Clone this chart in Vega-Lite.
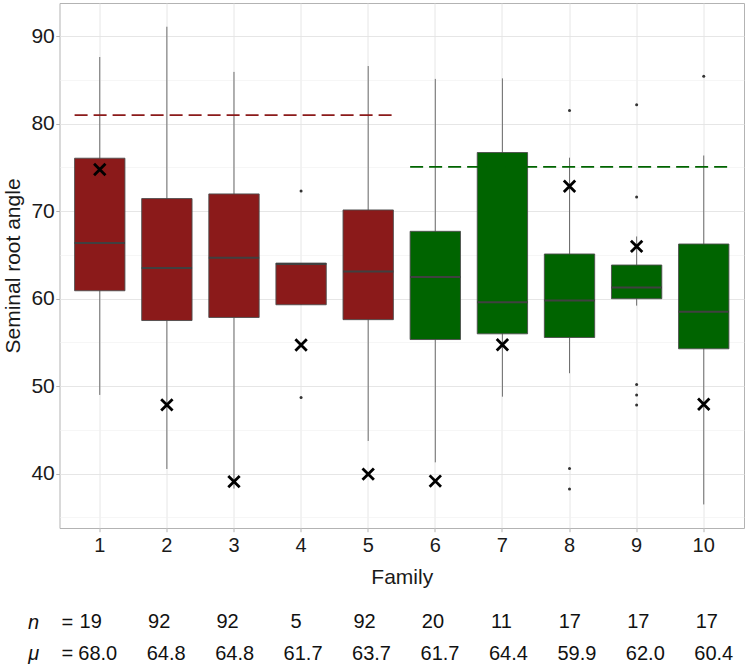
{
  "$schema": "https://vega.github.io/schema/vega-lite/v6.json",
  "padding": {"left": 1.5, "top": 2, "right": 2, "bottom": 0},
  "spacing": 24,
  "config": {
    "font": "Liberation Sans",
    "view": {"stroke": "#b3b3b3", "strokeWidth": 1},
    "axis": {
      "domain": false,
      "tickColor": "#b3b3b3",
      "tickSize": 3.7,
      "gridColor": "#e3e3e3",
      "gridWidth": 0.9,
      "labelColor": "#1a1a1a",
      "titleColor": "#1a1a1a",
      "titleFontWeight": "normal",
      "labelFontSize": 20,
      "titleFontSize": 21
    }
  },
  "datasets": {
    "boxes": [
      {"family": 1, "group": "A", "lower": 49.0, "q1": 60.9, "median": 66.35, "q3": 76.04, "upper": 87.6, "marker": 74.75},
      {"family": 2, "group": "A", "lower": 40.54, "q1": 57.5, "median": 63.5, "q3": 71.43, "upper": 91.06, "marker": 47.86},
      {"family": 3, "group": "A", "lower": 38.3, "q1": 57.85, "median": 64.68, "q3": 71.96, "upper": 85.9, "marker": 39.1},
      {"family": 4, "group": "A", "lower": 59.3, "q1": 59.3, "median": 63.95, "q3": 64.06, "upper": 64.06, "marker": 54.7},
      {"family": 5, "group": "A", "lower": 43.74, "q1": 57.6, "median": 63.1, "q3": 70.13, "upper": 86.57, "marker": 39.95},
      {"family": 6, "group": "B", "lower": 41.3, "q1": 55.33, "median": 62.46, "q3": 67.69, "upper": 85.1, "marker": 39.16},
      {"family": 7, "group": "B", "lower": 48.8, "q1": 55.98, "median": 59.6, "q3": 76.69, "upper": 85.16, "marker": 54.73},
      {"family": 8, "group": "B", "lower": 51.48, "q1": 55.56, "median": 59.8, "q3": 65.1, "upper": 76.1, "marker": 72.84},
      {"family": 9, "group": "B", "lower": 59.2, "q1": 59.99, "median": 61.28, "q3": 63.84, "upper": 67.1, "marker": 65.97},
      {"family": 10, "group": "B", "lower": 36.49, "q1": 54.27, "median": 58.5, "q3": 66.24, "upper": 76.35, "marker": 47.93}
    ],
    "outliers": [
      {"family": 4, "value": 72.3},
      {"family": 4, "value": 48.7},
      {"family": 8, "value": 81.5},
      {"family": 8, "value": 40.6},
      {"family": 8, "value": 38.25},
      {"family": 9, "value": 82.14},
      {"family": 9, "value": 71.6},
      {"family": 9, "value": 50.18},
      {"family": 9, "value": 49.0},
      {"family": 9, "value": 47.86},
      {"family": 10, "value": 85.39}
    ],
    "refs": [
      {"group": "A", "from": 1, "to": 5, "value": 80.96},
      {"group": "B", "from": 6, "to": 10, "value": 75.05}
    ],
    "table": [
      {"family": 1, "row": "n", "text": "19"},
      {"family": 2, "row": "n", "text": "92"},
      {"family": 3, "row": "n", "text": "92"},
      {"family": 4, "row": "n", "text": "5"},
      {"family": 5, "row": "n", "text": "92"},
      {"family": 6, "row": "n", "text": "20"},
      {"family": 7, "row": "n", "text": "11"},
      {"family": 8, "row": "n", "text": "17"},
      {"family": 9, "row": "n", "text": "17"},
      {"family": 10, "row": "n", "text": "17"},
      {"family": 1, "row": "μ", "text": "68.0"},
      {"family": 2, "row": "μ", "text": "64.8"},
      {"family": 3, "row": "μ", "text": "64.8"},
      {"family": 4, "row": "μ", "text": "61.7"},
      {"family": 5, "row": "μ", "text": "63.7"},
      {"family": 6, "row": "μ", "text": "61.7"},
      {"family": 7, "row": "μ", "text": "64.4"},
      {"family": 8, "row": "μ", "text": "59.9"},
      {"family": 9, "row": "μ", "text": "62.0"},
      {"family": 10, "row": "μ", "text": "60.4"}
    ]
  },
  "vconcat": [
    {
      "width": 684.5,
      "height": 525,
      "resolve": {"axis": {"y": "independent"}},
      "layer": [
        {
          "data": {"name": "boxes"},
          "mark": {"type": "rule", "color": "#6e6e6e", "strokeWidth": 1},
          "encoding": {
            "x": {
              "field": "family", "type": "ordinal",
              "scale": {"paddingInner": 0.25, "paddingOuter": 0.225},
              "axis": {"title": "Family", "labelAngle": 0, "grid": true, "labelPadding": 3.5, "titlePadding": 11}
            },
            "y": {
              "field": "lower", "type": "quantitative",
              "scale": {"domain": [33.8, 93.77], "nice": false, "zero": false},
              "axis": {"title": "Seminal root angle", "values": [40, 50, 60, 70, 80, 90], "grid": true, "labelPadding": 1.5, "titlePadding": 7, "labelFontSize": 21}
            },
            "y2": {"field": "upper"}
          }
        },
        {
          "data": {"name": "boxes"},
          "mark": {"type": "bar", "stroke": "#4d4d4d", "strokeWidth": 0.9},
          "encoding": {
            "x": {"field": "family", "type": "ordinal"},
            "y": {
              "field": "q1", "type": "quantitative",
              "axis": {"orient": "left", "values": [35, 45, 55, 65, 75, 85], "labels": false, "ticks": false, "domain": false, "title": null, "grid": true, "gridColor": "#f0f0f0", "gridWidth": 0.6}
            },
            "y2": {"field": "q3"},
            "color": {"field": "group", "type": "nominal", "scale": {"domain": ["A", "B"], "range": ["#8B1A1A", "#006400"]}, "legend": null}
          }
        },
        {
          "data": {"name": "boxes"},
          "mark": {"type": "rule", "color": "#404040", "strokeWidth": 2},
          "encoding": {
            "x": {"field": "family", "type": "ordinal", "bandPosition": 0},
            "x2": {"field": "family", "bandPosition": 1},
            "y": {"field": "median", "type": "quantitative", "axis": null}
          }
        },
        {
          "data": {"name": "outliers"},
          "mark": {"type": "circle", "color": "#333333", "opacity": 1, "size": 9},
          "encoding": {
            "x": {"field": "family", "type": "ordinal"},
            "y": {"field": "value", "type": "quantitative", "axis": null}
          }
        },
        {
          "data": {"name": "boxes"},
          "mark": {"type": "point", "shape": "M-1,-1L1,1M1,-1L-1,1", "filled": false, "stroke": "#000000", "strokeWidth": 2.8, "size": 130, "opacity": 1},
          "encoding": {
            "x": {"field": "family", "type": "ordinal"},
            "y": {"field": "marker", "type": "quantitative", "axis": null}
          }
        },
        {
          "data": {"name": "refs"},
          "mark": {"type": "rule", "strokeWidth": 1.8, "strokeDash": [13, 6]},
          "encoding": {
            "x": {"field": "from", "type": "ordinal", "bandPosition": 0},
            "x2": {"field": "to", "bandPosition": 1},
            "y": {"field": "value", "type": "quantitative", "axis": null},
            "color": {"field": "group", "type": "nominal", "legend": null}
          }
        }
      ]
    },
    {
      "width": 684.5,
      "height": 40,
      "view": {"stroke": null},
      "data": {"name": "table"},
      "encoding": {
        "x": {
          "field": "family", "type": "ordinal",
          "scale": {"paddingInner": 0.25, "paddingOuter": 0.225},
          "axis": null
        },
        "y": {
          "field": "row", "type": "ordinal",
          "scale": {"type": "point", "domain": ["n", "μ"], "padding": 0.145},
          "axis": {"title": null, "domain": false, "ticks": false, "tickSize": 0, "grid": false, "labelFontStyle": "italic", "labelFontSize": 20, "labelColor": "#111111", "labelPadding": -13, "labelExpr": "datum.value + '\u00a0\u00a0\u00a0\u00a0='"}
        },
        "text": {"field": "text"}
      },
      "layer": [
        {
          "transform": [{"filter": "datum.row == 'n'"}],
          "mark": {"type": "text", "fontSize": 20, "color": "#111111", "dx": -3}
        },
        {
          "transform": [{"filter": "datum.row == 'μ'"}],
          "mark": {"type": "text", "fontSize": 20, "color": "#111111", "dx": 4}
        }
      ]
    }
  ]
}
